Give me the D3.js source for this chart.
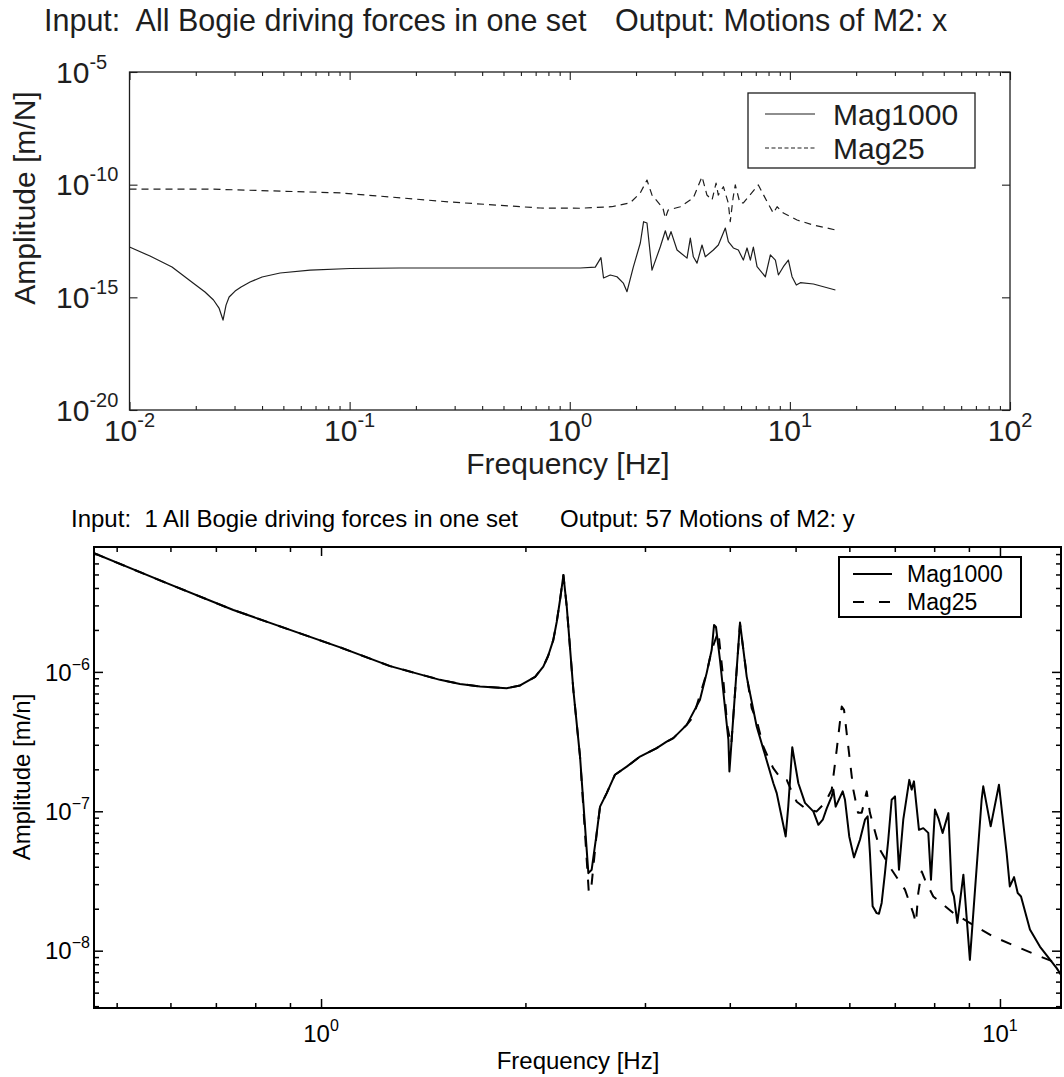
<!DOCTYPE html>
<html>
<head>
<meta charset="utf-8">
<script src="https://cdn.jsdelivr.net/npm/d3@7"></script>
<style>
  body { margin: 0; background: #fff; }
  svg { display: block; font-family: "Liberation Sans", Arial, Helvetica, sans-serif; }
  text { white-space: pre; }
</style>
</head>
<body>
<svg id="chart" width="1064" height="1077"></svg>
<script>
// --------------- Data ---------------
// [frequency Hz, amplitude]
const TOP_MAG1000 = [
  [0.01, 1.71e-13], [0.01239, 6.8e-14], [0.0156, 2.21e-14], [0.01944, 4.3e-15],
  [0.02203, 1.72e-15], [0.02408, 7.6e-16], [0.02551, 3.35e-16], [0.0266, 9.8e-17],
  [0.02745, 4.5e-16], [0.02835, 1.03e-15], [0.03018, 1.9e-15], [0.03213, 2.86e-15],
  [0.03529, 4.8e-15], [0.04003, 8.0e-15], [0.04832, 1.2e-14], [0.06614, 1.62e-14],
  [0.1005, 1.9e-14], [0.168, 2.0e-14], [0.7345, 2.0e-14], [1.116, 2.0e-14],
  [1.306, 2.2e-14], [1.386, 5.75e-14], [1.424, 7.2e-15], [1.528, 9.8e-15],
  [1.639, 8.2e-15], [1.751, 4.3e-15], [1.82, 1.78e-15], [1.944, 2.2e-14],
  [2.092, 2.57e-13], [2.165, 2.27e-12], [2.243, 1.99e-12], [2.364, 1.62e-14],
  [2.579, 1.76e-13], [2.718, 9.0e-13], [2.796, 3.5e-13], [2.884, 8.2e-13],
  [3.072, 1.26e-13], [3.41, 5.5e-14], [3.53, 4.27e-13], [3.643, 6.3e-14],
  [3.786, 3.3e-14], [3.989, 2.1e-13], [4.129, 6.3e-14], [4.491, 1.26e-13],
  [4.732, 2.1e-13], [5.091, 1.19e-12], [5.254, 2.94e-13], [5.536, 1.55e-13],
  [5.833, 1.26e-13], [6.146, 4.5e-14], [6.389, 1.55e-13], [6.614, 4.5e-14],
  [6.825, 1.71e-13], [7.094, 2.28e-14], [7.738, 8.2e-15], [8.154, 7.6e-14],
  [8.594, 4.5e-14], [8.868, 9.8e-15], [9.343, 2.28e-14], [9.844, 4.5e-14],
  [10.23, 8.2e-15], [10.7, 3.5e-15], [11.16, 4.47e-15], [12.79, 3.9e-15],
  [16.1, 2.11e-15]
];
const TOP_MAG25 = [
  [0.01, 6.4e-11], [0.0225, 6.4e-11], [0.0915, 4.3e-11], [0.286, 1.7e-11],
  [0.7345, 9.2e-12], [1.116, 9.0e-12], [1.55, 1.05e-11], [1.884, 1.58e-11],
  [2.092, 4.3e-11], [2.243, 1.61e-10], [2.364, 3.46e-11], [2.65, 9.2e-12],
  [2.718, 3.3e-12], [2.8, 7.5e-12], [3.18, 1.05e-11], [3.64, 2.57e-11],
  [3.99, 2.25e-10], [4.2, 3.46e-11], [4.43, 2.09e-11], [4.62, 1.18e-10],
  [4.73, 3.46e-11], [4.99, 8.1e-11], [5.25, 1.55e-11], [5.36, 2.29e-12],
  [5.52, 2.57e-11], [5.65, 9.7e-11], [5.93, 1.55e-11], [6.15, 1.55e-11],
  [6.48, 2.9e-11], [7.19, 9.7e-11], [7.88, 1.75e-11], [8.41, 5.5e-12],
  [8.75, 1.05e-11], [9.34, 5.5e-12], [10.78, 2.7e-12], [12.79, 1.62e-12],
  [16.1, 9.8e-13]
];
const BOT_MAG1000 = [
  [0.463, 7.1e-6], [0.5926, 4.33e-6], [0.7427, 2.78e-6], [0.9313, 1.89e-6],
  [1.067, 1.5e-6], [1.264, 1.1e-6], [1.497, 8.77e-7], [1.602, 8.2e-7],
  [1.715, 7.85e-7], [1.877, 7.64e-7], [1.964, 8.0e-7], [2.067, 9.2e-7],
  [2.125, 1.09e-6], [2.16, 1.3e-6], [2.198, 1.69e-6], [2.224, 2.28e-6],
  [2.249, 3.28e-6], [2.275, 4.95e-6], [2.301, 2.94e-6], [2.353, 7.43e-7],
  [2.407, 2.47e-7], [2.476, 3.6e-8], [2.504, 3.81e-8], [2.547, 6.98e-8],
  [2.576, 1.08e-7], [2.635, 1.35e-7], [2.71, 1.83e-7], [2.82, 2.09e-7],
  [2.95, 2.47e-7], [3.122, 2.84e-7], [3.229, 3.16e-7], [3.303, 3.35e-7],
  [3.456, 4.17e-7], [3.615, 6.3e-7], [3.698, 9.8e-7], [3.762, 1.44e-6],
  [3.792, 2.17e-6], [3.817, 2.1e-6], [3.869, 1.22e-6], [3.981, 3.26e-7],
  [3.995, 1.93e-7], [4.141, 2.26e-6], [4.236, 9.25e-7], [4.382, 4.06e-7],
  [4.637, 1.59e-7], [4.69, 1.35e-7], [4.835, 6.6e-8], [4.877, 1.08e-7],
  [4.944, 2.88e-7], [5.047, 1.59e-7], [5.162, 1.15e-7], [5.31, 9.98e-8],
  [5.402, 8.0e-8], [5.483, 8.7e-8], [5.557, 1.05e-7], [5.652, 1.28e-7],
  [5.683, 1.43e-7], [5.728, 1.08e-7], [5.866, 1.39e-7], [5.912, 1.21e-7],
  [5.998, 6.6e-8], [6.095, 4.67e-8], [6.22, 6.25e-8], [6.327, 8.7e-8],
  [6.384, 9.2e-8], [6.434, 5.0e-8], [6.493, 2.08e-8], [6.582, 1.86e-8],
  [6.634, 1.84e-8], [6.695, 2.2e-8], [6.77, 3.6e-8], [6.847, 6.25e-8],
  [6.926, 1.21e-7], [7.005, 1.28e-7], [7.1, 3.81e-8], [7.204, 8.7e-8],
  [7.353, 1.68e-7], [7.412, 1.43e-7], [7.47, 1.64e-7], [7.598, 7.36e-8],
  [7.71, 7.57e-8], [7.842, 7.0e-8], [7.914, 3.23e-8], [8.022, 1.03e-7],
  [8.115, 8.9e-8], [8.233, 6.98e-8], [8.395, 9.7e-8], [8.49, 2.73e-8],
  [8.555, 2.45e-8], [8.654, 1.58e-8], [8.833, 3.51e-8], [9.03, 8.6e-9],
  [9.397, 1.21e-7], [9.449, 1.51e-7], [9.69, 7.8e-8], [9.966, 1.55e-7],
  [10.23, 5.0e-8], [10.34, 2.89e-8], [10.49, 3.37e-8], [10.62, 2.59e-8],
  [10.74, 2.45e-8], [11.07, 1.42e-8], [11.45, 1.07e-8], [12.12, 7.5e-9],
  [12.3, 6.7e-9]
];
const BOT_MAG25 = [
  [0.463, 7.1e-6], [0.5926, 4.33e-6], [0.7427, 2.78e-6], [0.9313, 1.89e-6],
  [1.067, 1.5e-6], [1.264, 1.1e-6], [1.497, 8.77e-7], [1.602, 8.2e-7],
  [1.715, 7.85e-7], [1.877, 7.64e-7], [1.964, 8.0e-7], [2.067, 9.2e-7],
  [2.125, 1.09e-6], [2.16, 1.3e-6], [2.198, 1.69e-6], [2.224, 2.28e-6],
  [2.249, 3.28e-6], [2.275, 4.95e-6], [2.301, 2.94e-6], [2.353, 7.43e-7],
  [2.407, 2.47e-7], [2.48, 2.6e-8], [2.5, 2.8e-8], [2.547, 6.98e-8],
  [2.576, 1.08e-7], [2.635, 1.35e-7], [2.71, 1.83e-7], [2.82, 2.09e-7],
  [2.95, 2.47e-7], [3.122, 2.84e-7], [3.229, 3.16e-7], [3.303, 3.35e-7],
  [3.456, 4.17e-7], [3.535, 4.78e-7], [3.698, 9.8e-7], [3.762, 1.44e-6],
  [3.847, 1.95e-6], [3.905, 9.8e-7], [3.967, 4.06e-7], [3.995, 3.44e-7],
  [4.02, 3.0e-7], [4.141, 2.2e-6], [4.236, 9.5e-7], [4.308, 5.5e-7],
  [4.382, 4.5e-7], [4.481, 2.92e-7], [4.553, 2.46e-7], [4.632, 2.05e-7],
  [4.771, 1.68e-7], [4.852, 1.68e-7], [4.934, 1.39e-7], [5.019, 1.17e-7],
  [5.194, 1.03e-7], [5.37, 9.98e-8], [5.525, 1.15e-7], [5.652, 1.43e-7],
  [5.748, 2.76e-7], [5.847, 5.64e-7], [5.893, 5.34e-7], [5.946, 3.64e-7],
  [6.081, 1.43e-7], [6.179, 9.75e-8], [6.257, 9.75e-8], [6.364, 1.39e-7],
  [6.434, 9.75e-8], [6.656, 5.3e-8], [6.926, 3.81e-8], [7.246, 2.74e-8],
  [7.452, 1.86e-8], [7.52, 1.58e-8], [7.58, 2.59e-8], [7.668, 3.7e-8],
  [7.754, 3.23e-8], [7.976, 2.45e-8], [8.537, 1.86e-8], [9.135, 1.53e-8],
  [9.775, 1.26e-8], [10.58, 1.07e-8], [11.45, 9.1e-9], [12.3, 7.94e-9]
];

const LEGEND_LABELS = ["Mag1000", "Mag25"];

const TOP_X_TICKS = [1e-2, 1e-1, 1, 10, 100];
const TOP_Y_TICKS = [1e-20, 1e-15, 1e-10, 1e-5];
const BOT_X_TICKS = [1, 10];
const BOT_Y_TICKS = [1e-8, 1e-7, 1e-6];

const TOP_TITLE = ["Input:  All Bogie driving forces in one set", "Output: Motions of M2: x"];
const BOT_TITLE = ["Input:  1 All Bogie driving forces in one set", "Output: 57 Motions of M2: y"];

// minor ticks 2..9 inside a log domain
function minorTicks([lo, hi]) {
  const out = [];
  for (let e = Math.floor(Math.log10(lo)); e <= Math.ceil(Math.log10(hi)); e++) {
    for (let k = 2; k <= 9; k++) {
      const v = k * Math.pow(10, e);
      if (v > lo && v < hi) out.push(v);
    }
  }
  return out;
}

const svg = d3.select("#chart");

function drawPanel(cfg) {
  const g = svg.append("g").attr("id", cfg.id);
  const x = d3.scaleLog().domain(cfg.xDomain).range([cfg.left, cfg.right]);
  const y = d3.scaleLog().domain(cfg.yDomain).range([cfg.bottom, cfg.top]);

  g.append("clipPath").attr("id", cfg.id + "-clip")
    .append("rect")
    .attr("x", cfg.left).attr("y", cfg.top)
    .attr("width", cfg.right - cfg.left).attr("height", cfg.bottom - cfg.top);

  // inward ticks on all four sides
  const ticks = (axis, tx, ty) =>
    g.append("g")
      .attr("transform", `translate(${tx},${ty})`)
      .call(axis.tickFormat(""))
      .call((a) => a.select(".domain").remove())
      .selectAll("line")
      .attr("stroke", cfg.color)
      .attr("stroke-width", cfg.tickWidth);

  [[cfg.xTicks, cfg.majorLen], [cfg.xMinor, cfg.minorLen]].forEach(([vals, len]) => {
    ticks(d3.axisBottom(x).tickValues(vals).tickSize(-len), 0, cfg.bottom);
    ticks(d3.axisTop(x).tickValues(vals).tickSize(-len), 0, cfg.top);
  });
  [[cfg.yTicks, cfg.majorLen], [cfg.yMinor, cfg.minorLen]].forEach(([vals, len]) => {
    ticks(d3.axisLeft(y).tickValues(vals).tickSize(-len), cfg.left, 0);
    ticks(d3.axisRight(y).tickValues(vals).tickSize(-len), cfg.right, 0);
  });

  g.append("rect")
    .attr("x", cfg.left).attr("y", cfg.top)
    .attr("width", cfg.right - cfg.left).attr("height", cfg.bottom - cfg.top)
    .attr("fill", "none")
    .attr("stroke", cfg.color)
    .attr("stroke-width", cfg.frameWidth);

  const expText = (v) => {
    const e = Math.round(Math.log10(v));
    return e < 0 ? cfg.minus + Math.abs(e) : String(e);
  };
  const power = (sel, v) => {
    sel.append("tspan").text("10");
    sel.append("tspan")
      .attr("font-size", cfg.supSize)
      .attr("dy", -cfg.supRise)
      .text(expText(v));
  };

  // tick labels
  g.append("g").selectAll("text")
    .data(cfg.xTicks)
    .join("text")
    .attr("x", (d) => x(d))
    .attr("y", cfg.xLabelY)
    .attr("text-anchor", "middle")
    .attr("font-size", cfg.tickSize)
    .attr("fill", cfg.textColor)
    .each(function (d) { power(d3.select(this), d); });

  g.append("g").selectAll("text")
    .data(cfg.yTicks)
    .join("text")
    .attr("x", cfg.yLabelX)
    .attr("y", (d) => y(d) + cfg.tickSize * 0.36)
    .attr("font-size", cfg.tickSize)
    .attr("fill", cfg.textColor)
    .each(function (d) { power(d3.select(this), d); });

  // titles and axis labels
  cfg.title.forEach((t, i) => {
    g.append("text")
      .attr("x", cfg.titleX[i]).attr("y", cfg.titleY)
      .attr("font-size", cfg.titleSize)
      .attr("fill", cfg.textColor)
      .text(t);
  });
  g.append("text")
    .attr("x", cfg.xTitle[0]).attr("y", cfg.xTitle[1])
    .attr("text-anchor", "middle")
    .attr("font-size", cfg.labelSize)
    .attr("fill", cfg.textColor)
    .text("Frequency [Hz]");
  g.append("text")
    .attr("transform", `translate(${cfg.yTitle[0]},${cfg.yTitle[1]}) rotate(-90)`)
    .attr("text-anchor", "middle")
    .attr("font-size", cfg.labelSize)
    .attr("fill", cfg.textColor)
    .text(cfg.yTitleText);

  // curves
  const line = d3.line().x((d) => x(d[0])).y((d) => y(d[1]));
  const lines = g.append("g").attr("clip-path", `url(#${cfg.id}-clip)`);
  cfg.series.forEach((s) => {
    lines.append("path")
      .datum(s.values)
      .attr("d", line)
      .attr("fill", "none")
      .attr("stroke", cfg.color)
      .attr("stroke-width", cfg.lineWidth)
      .attr("stroke-linejoin", "round")
      .attr("stroke-dasharray", s.dashed ? cfg.dash : null);
  });

  // legend
  const L = cfg.legend;
  const lg = g.append("g");
  lg.append("rect")
    .attr("x", L.x0).attr("y", L.y0)
    .attr("width", L.x1 - L.x0).attr("height", L.y1 - L.y0)
    .attr("fill", "#fff")
    .attr("stroke", cfg.color)
    .attr("stroke-width", cfg.frameWidth);
  LEGEND_LABELS.forEach((name, i) => {
    const ry = L.rows[i];
    lg.append("line")
      .attr("x1", L.lx0).attr("x2", L.lx1)
      .attr("y1", ry).attr("y2", ry)
      .attr("stroke", cfg.color)
      .attr("stroke-width", cfg.lineWidth)
      .attr("stroke-dasharray", i === 1 ? L.dash : null);
    lg.append("text")
      .attr("x", L.tx).attr("y", ry + L.size * 0.36)
      .attr("font-size", L.size)
      .attr("fill", cfg.textColor)
      .text(name);
  });
}

// --------------- Upper panel ---------------
drawPanel({
  id: "upper",
  left: 129.5, right: 1010, top: 72, bottom: 410,
  xDomain: [1e-2, 1e2], yDomain: [1e-20, 1e-5],
  xTicks: TOP_X_TICKS, xMinor: minorTicks([1e-2, 1e2]),
  yTicks: TOP_Y_TICKS, yMinor: [],
  majorLen: 8, minorLen: 4,
  color: "#1e1e1e", textColor: "#1e1e1e",
  frameWidth: 1.3, tickWidth: 1.1, lineWidth: 1.2, dash: "7,5",
  tickSize: 30, supSize: 20, supRise: 14, minus: "-",
  xLabelY: 441, yLabelX: 56,
  title: TOP_TITLE, titleX: [44, 615], titleY: 31, titleSize: 30.5,
  xTitle: [568, 474], yTitle: [35, 198], labelSize: 30,
  yTitleText: "Amplitude [m/N]",
  series: [
    { values: TOP_MAG1000, dashed: false },
    { values: TOP_MAG25, dashed: true }
  ],
  legend: {
    x0: 748, x1: 975, y0: 93, y1: 168, rows: [114, 148],
    lx0: 765, lx1: 815, tx: 833, size: 30, dash: "4,2.5"
  }
});

// --------------- Lower panel ---------------
drawPanel({
  id: "lower",
  left: 94, right: 1061, top: 547, bottom: 1008,
  xDomain: [0.463, 12.3], yDomain: [3.88e-9, 7.87e-6],
  xTicks: BOT_X_TICKS, xMinor: minorTicks([0.463, 12.3]),
  yTicks: BOT_Y_TICKS, yMinor: minorTicks([3.88e-9, 7.87e-6]),
  majorLen: 9, minorLen: 5,
  color: "#000", textColor: "#000",
  frameWidth: 2, tickWidth: 1.5, lineWidth: 2, dash: "11,11",
  tickSize: 24, supSize: 16, supRise: 11, minus: "\u2212",
  xLabelY: 1042, yLabelX: 45,
  title: BOT_TITLE, titleX: [71, 560], titleY: 527, titleSize: 24,
  xTitle: [578, 1069], yTitle: [30, 777], labelSize: 24,
  yTitleText: "Amplitude [m/n]",
  series: [
    { values: BOT_MAG25, dashed: true },
    { values: BOT_MAG1000, dashed: false }
  ],
  legend: {
    x0: 839, x1: 1021, y0: 557, y1: 617, rows: [574, 602],
    lx0: 853, lx1: 892, tx: 907, size: 23, dash: "11,15"
  }
});
</script>
</body>
</html>
